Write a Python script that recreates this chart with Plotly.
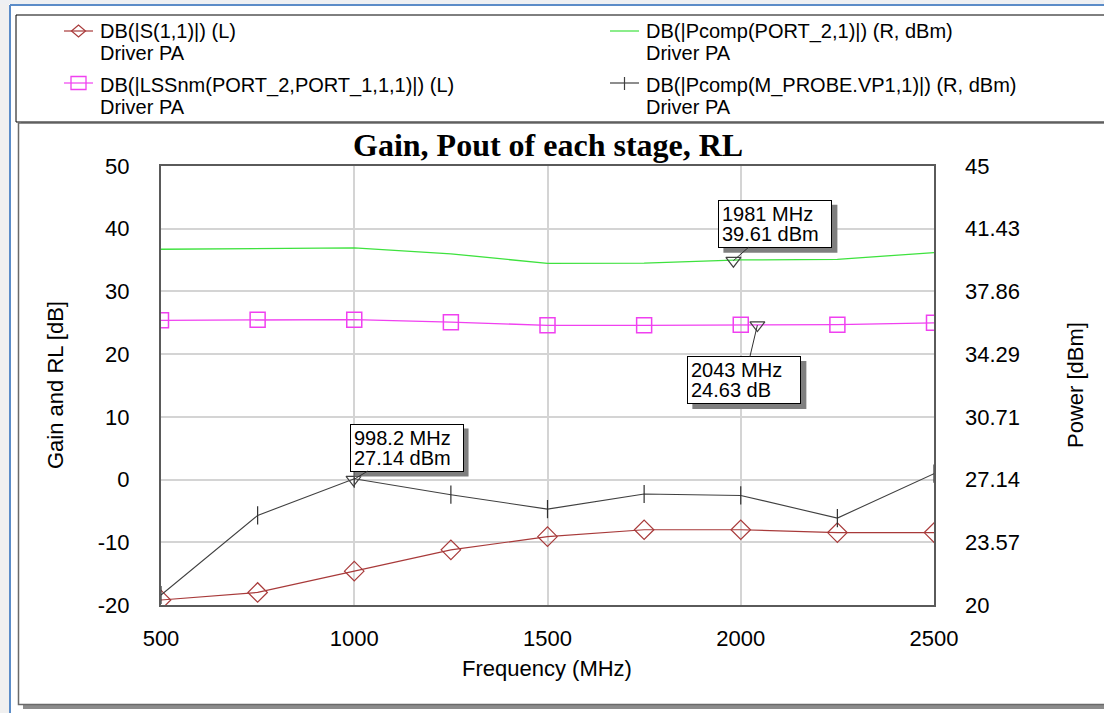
import plotly.graph_objects as go

# ---- data -------------------------------------------------------------
freq_mhz = [500, 750, 1000, 1250, 1500, 1750, 2000, 2250, 2500]

s11_db = [-19.2, -18.0, -14.6, -11.2, -9.1, -8.0, -8.0, -8.45, -8.45]
gain_db = [25.4, 25.5, 25.5, 25.1, 24.6, 24.6, 24.7, 24.7, 25.0]
pout_port2_dbm = [40.26, 40.32, 40.34, 40.0, 39.45, 39.47, 39.65, 39.68, 40.07]
pout_probe_dbm = [20.57, 25.10, 27.19, 26.28, 25.46, 26.32, 26.24, 24.95, 27.48]

series_names = [
    "DB(|S(1,1)|) (L)",
    "DB(|Pcomp(PORT_2,1)|) (R, dBm)",
    "DB(|LSSnm(PORT_2,PORT_1,1,1)|) (L)",
    "DB(|Pcomp(M_PROBE.VP1,1)|) (R, dBm)",
]
schematic_name = "Driver PA"

# marker readouts: (frequency, value, axis, unit)
marker_freq = [1981, 2043, 998.2]
marker_val = [39.61, 24.63, 27.14]
marker_axis = ["y2", "y", "y2"]
marker_unit = ["dBm", "dB", "dBm"]

left_ticks = [-20, -10, 0, 10, 20, 30, 40, 50]
left_ticktext = ["-20", "-10", "0", "10", "20", "30", "40", "50"]
right_ticks = [20, 23.57, 27.14, 30.71, 34.29, 37.86, 41.43, 45]
right_ticktext = ["20", "23.57", "27.14", "30.71", "34.29", "37.86", "41.43", "45"]
x_ticks = [500, 1000, 1500, 2000, 2500]

# ---- geometry (pixels) -----------------------------------------------
W, H = 1104, 713
PL, PR, PT, PB = 161, 934, 166, 605          # plot area edges
pw, ph = PR - PL, PB - PT


def px(x):
    return (x - PL) / pw


def py(y):
    return (PB - y) / ph


SANS = "Liberation Sans, Arial, sans-serif"
SERIF = "Liberation Serif, Times New Roman, serif"

C_S11 = "#a83a3a"
C_GAIN = "#f040f0"
C_P2 = "#3ee23e"
C_PROBE = "#404040"


def tight_lines(lines, glyph_px):
    # glyphs drawn at glyph_px while the block's base font sets the line pitch
    return "<br>".join(f'<span style="font-size:{glyph_px}px">{s}</span>' for s in lines)


fig = go.Figure()

fig.add_trace(go.Scatter(
    x=freq_mhz, y=s11_db, mode="lines+markers", name=series_names[0],
    line=dict(color=C_S11, width=1.2),
    marker=dict(symbol="diamond-open", size=15, color=C_S11, line=dict(width=1.2)),
    yaxis="y",
))
fig.add_trace(go.Scatter(
    x=freq_mhz, y=pout_port2_dbm, mode="lines", name=series_names[1],
    line=dict(color=C_P2, width=1.3),
    yaxis="y2",
))
fig.add_trace(go.Scatter(
    x=freq_mhz, y=gain_db, mode="lines+markers", name=series_names[2],
    line=dict(color=C_GAIN, width=1.3),
    marker=dict(symbol="square-open", size=15, color=C_GAIN, line=dict(width=1.5)),
    yaxis="y",
))
fig.add_trace(go.Scatter(
    x=freq_mhz, y=pout_probe_dbm, mode="lines+markers", name=series_names[3],
    line=dict(color=C_PROBE, width=1.1),
    marker=dict(symbol="line-ns", size=13, color="#303030", line=dict(width=1.2, color="#303030")),
    yaxis="y2",
))

# marker triangles
for f, v, ax_name in zip(marker_freq, marker_val, marker_axis):
    fig.add_trace(go.Scatter(
        x=[f], y=[v], mode="markers", yaxis=ax_name, showlegend=False,
        marker=dict(symbol="triangle-down-open", size=13, color="#404040", line=dict(width=1.2)),
        hoverinfo="skip",
    ))

shapes = []
annotations = []

# marker readout boxes, offsets in pixels from the marker point
box_offsets = [(42, -37), (-13, 55), (53, -32)]
BOX_W, BOX_H, BOX_PAD = 106, 40, 3          # inner text box size and padding
half_w, half_h = BOX_W / 2 + BOX_PAD + 1, BOX_H / 2 + BOX_PAD + 1
SH = 5                                      # drop-shadow offset
for f, v, ax_name, unit, (dx, dy) in zip(marker_freq, marker_val, marker_axis, marker_unit, box_offsets):
    txt = tight_lines([f"{f:g} MHz", f"{v:.2f} {unit}"], 20)
    # drop shadow, positioned in pixels around the marker point
    shapes.append(dict(
        type="rect", xref="x", yref=ax_name,
        xsizemode="pixel", ysizemode="pixel", xanchor=f, yanchor=v,
        x0=dx - half_w + SH, x1=dx + half_w + SH,
        y0=-(dy + half_h + SH), y1=-(dy - half_h + SH),
        fillcolor="#7f7f7f", line=dict(width=0), layer="above",
    ))
    annotations.append(dict(
        x=f, y=v, xref="x", yref=ax_name, text=txt, showarrow=True,
        ax=dx, ay=dy, arrowhead=0, arrowwidth=1, arrowcolor="#303030",
        font=dict(family=SANS, size=15.5, color="#000000"),
        bgcolor="#ffffff", bordercolor="#000000", borderwidth=1, borderpad=BOX_PAD,
        width=BOX_W, height=BOX_H, align="left", valign="middle",
    ))


def label(text, x, y, size, family=SANS, angle=0, xanchor="center"):
    return dict(text=text, x=px(x), y=py(y), xref="paper", yref="paper",
                showarrow=False, textangle=angle, xanchor=xanchor, yanchor="middle",
                font=dict(family=family, size=size, color="#000000"))


# title and axis titles
annotations += [
    label("<b>Gain, Pout of each stage, RL</b>", 548, 145, 32, family=SERIF),
    label("Frequency (MHz)", 547, 668, 22),
    label("Gain and RL [dB]", 55, 385, 22, angle=-90),
    label("Power [dBm]", 1075, 385, 22, angle=-90),
]

# legend texts: two columns, two rows, each entry two lines
leg_text_x = [98, 644, 98, 644]
leg_row_y = [42, 42, 95.5, 95.5]
for name, tx, ty in zip(series_names, leg_text_x, leg_row_y):
    a = label(tight_lines([name, schematic_name], 20), tx, ty, 17, xanchor="left")
    a["align"] = "left"
    annotations.append(a)


def seg(x0, y0, x1, y1, color, width=1.2):
    return dict(type="line", xref="paper", yref="paper", x0=px(x0), x1=px(x1),
                y0=py(y0), y1=py(y1), line=dict(color=color, width=width))


# window frame, legend box and graph box
shapes += [
    dict(type="rect", xref="paper", yref="paper", x0=px(0), x1=px(9), y0=py(713), y1=py(0),
         fillcolor="#f0f0f0", line=dict(width=0), layer="below"),
    dict(type="rect", xref="paper", yref="paper", x0=px(0), x1=px(1104), y0=py(4), y1=py(0),
         fillcolor="#eef0f3", line=dict(width=0), layer="below"),
    seg(10, 713, 10, 5, "#5b8cc8", 2),
    seg(10, 5, 1104, 5, "#5b8cc8", 2),
    # legend box shadow and outline
    dict(type="rect", xref="paper", yref="paper", x0=px(21), x1=px(1110), y0=py(126), y1=py(19),
         fillcolor="#808080", line=dict(width=0), layer="below"),
    dict(type="rect", xref="paper", yref="paper", x0=px(16), x1=px(1108), y0=py(122), y1=py(15),
         fillcolor="#ffffff", line=dict(color="#000000", width=1), layer="below"),
    # graph box shadow and outline
    dict(type="rect", xref="paper", yref="paper", x0=px(23), x1=px(1110), y0=py(709), y1=py(128),
         fillcolor="#8c8c8c", line=dict(width=0), layer="below"),
    dict(type="rect", xref="paper", yref="paper", x0=px(18.5), x1=px(1108), y0=py(704.5), y1=py(123),
         fillcolor="#ffffff", line=dict(color="#6a6a6a", width=1.5), layer="below"),
]

# legend symbols
sym_y = [31, 31, 83, 83]
sym_x0 = [64, 610, 64, 610]
sym_col = [C_S11, C_P2, C_GAIN, C_PROBE]
for x0, y0, col in zip(sym_x0, sym_y, sym_col):
    shapes.append(seg(x0, y0, x0 + 29, y0, col, 1.2))
cx, cy = 78.5, 31
shapes.append(dict(type="path", xref="paper", yref="paper",
                   path=f"M {px(cx - 7)} {py(cy)} L {px(cx)} {py(cy - 6)} L {px(cx + 7)} {py(cy)} "
                        f"L {px(cx)} {py(cy + 6)} Z",
                   line=dict(color=C_S11, width=1.2)))
cx, cy = 78.5, 83
shapes.append(dict(type="rect", xref="paper", yref="paper", x0=px(cx - 7.5), x1=px(cx + 7.5),
                   y0=py(cy + 6.5), y1=py(cy - 6.5), line=dict(color=C_GAIN, width=1.3)))
shapes.append(seg(624.5, 77, 624.5, 90, C_PROBE, 1.2))

axis_font = dict(family=SANS, size=22, color="#000000")
fig.update_layout(
    width=W, height=H,
    margin=dict(l=PL, r=W - PR, t=PT, b=H - PB, pad=0),
    paper_bgcolor="#ffffff", plot_bgcolor="#ffffff",
    showlegend=False,
    xaxis=dict(
        range=[500, 2500], tickvals=x_ticks, showgrid=True, gridcolor="#d4d4d4", gridwidth=1.5,
        showline=True, mirror=True, linecolor="#5a5a5a", linewidth=2, zeroline=False,
        ticks="", tickfont=axis_font, ticklabelstandoff=13,
    ),
    yaxis=dict(
        range=[-20, 50], tickvals=left_ticks, ticktext=left_ticktext, showgrid=True,
        gridcolor="#d4d4d4", gridwidth=1.5,
        showline=True, mirror=True, linecolor="#5a5a5a", linewidth=2, zeroline=False,
        ticks="", tickfont=axis_font, ticklabelstandoff=25,
    ),
    yaxis2=dict(
        range=[20, 45], tickvals=right_ticks, ticktext=right_ticktext, overlaying="y",
        side="right", showgrid=False, zeroline=False, showline=False,
        ticks="", tickfont=axis_font, ticklabelstandoff=30,
    ),
    annotations=annotations,
    shapes=shapes,
)

fig.write_html("out.html")
